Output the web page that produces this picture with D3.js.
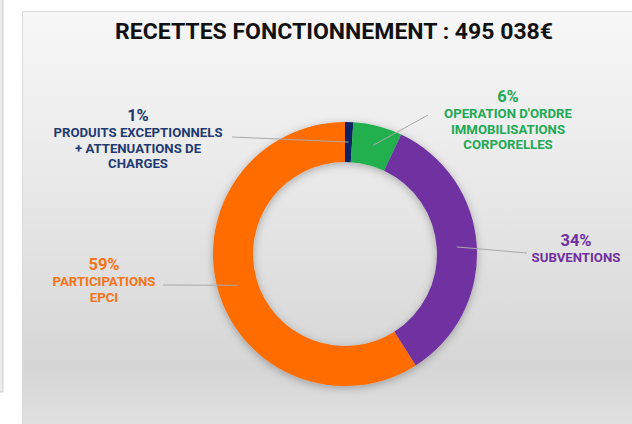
<!DOCTYPE html>
<html>
<head>
<meta charset="utf-8">
<script src="https://cdn.jsdelivr.net/npm/d3@7"></script>
<style>
  html, body { margin: 0; padding: 0; background: #fff; }
  #svg-container { width: 632px; height: 424px; }
  text { font-family: Roboto, "Liberation Sans", sans-serif; font-weight: 700; }
</style>
</head>
<body>
<div id="svg-container"></div>
<script>
////////////////////////////  Data  ////////////////////////////
const title = "RECETTES FONCTIONNEMENT : 495 038€";
const categories = [
  ["PRODUITS EXCEPTIONNELS", "+ ATTENUATIONS DE", "CHARGES"],
  ["OPERATION D'ORDRE", "IMMOBILISATIONS", "CORPORELLES"],
  ["SUBVENTIONS"],
  ["PARTICIPATIONS", "EPCI"]
];
const shares = [1, 6, 34, 59]; // %
const sliceColors = ["#0c2260", "#21b04f", "#7030a0", "#ff6c00"];
const textColors = ["#1e3a72", "#22a854", "#7030a0", "#f7731a"];

// label layout (where the leader line ends, where the text block sits)
const labelLayout = [
  { lx: 232, ly: 137, tx: 138, ty: 121 },
  { lx: 428, ly: 115, tx: 508, ty: 102 },
  { lx: 527, ly: 253, tx: 576, ty: 246 },
  { lx: 163, ly: 285, tx: 104, ty: 270 }
];

////////////////////////////  Init  ////////////////////////////
const width = 632, height = 424;
const svg = d3.select("#svg-container").append("svg")
  .attr("width", width).attr("height", height);

const defs = svg.append("defs");
const grad = defs.append("linearGradient").attr("id", "bg")
  .attr("x1", 0).attr("y1", 0).attr("x2", 0).attr("y2", 1);
[[0, "#f7f7f7"], [0.3, "#ededed"], [0.85, "#d6d6d6"], [1, "#e2e2e2"]]
  .forEach(s => grad.append("stop").attr("offset", s[0]).attr("stop-color", s[1]));

const shadow = defs.append("filter").attr("id", "shadow")
  .attr("x", "-20%").attr("y", "-20%").attr("width", "140%").attr("height", "140%");
shadow.append("feDropShadow").attr("dx", 0).attr("dy", 2).attr("stdDeviation", 4)
  .attr("flood-color", "#000").attr("flood-opacity", 0.28);

// left stub of the neighbouring frame
svg.append("rect").attr("x", -1).attr("y", -1).attr("width", 4).attr("height", 393)
  .attr("fill", "#ebebeb").attr("stroke", "#cfcfcf");

// chart panel
svg.append("rect").attr("x", 22.5).attr("y", 11.5).attr("width", 620).attr("height", 420)
  .attr("fill", "url(#bg)").attr("stroke", "#dadada");

svg.append("text")
  .attr("x", 334).attr("y", 39)
  .attr("text-anchor", "middle")
  .attr("font-size", 22)
  .attr("fill", "#111")
  .attr("textLength", 438).attr("lengthAdjust", "spacingAndGlyphs")
  .text(title);

////////////////////////////  Donut  ////////////////////////////
const cx = 345, cy = 254;
const outerR = 132, innerR = 92;

const pie = d3.pie().sort(null).value(d => d);
const arcs = pie(shares);
const arc = d3.arc().innerRadius(innerR).outerRadius(outerR);
const midArc = d3.arc().innerRadius((innerR + outerR) / 2).outerRadius((innerR + outerR) / 2);

const g = svg.append("g").attr("transform", `translate(${cx}, ${cy})`);

g.append("g").attr("filter", "url(#shadow)")
  .selectAll("path")
  .data(arcs)
  .enter()
  .append("path")
  .attr("d", arc)
  .attr("fill", (d, i) => sliceColors[i]);

// leader lines
g.selectAll(".leader")
  .data(arcs)
  .enter()
  .append("line")
  .attr("class", "leader")
  .attr("x1", d => midArc.centroid(d)[0])
  .attr("y1", d => midArc.centroid(d)[1])
  .attr("x2", (d, i) => labelLayout[i].lx - cx)
  .attr("y2", (d, i) => labelLayout[i].ly - cy)
  .attr("stroke", "#a9a9a9")
  .attr("stroke-width", 1);

// labels
const labels = svg.selectAll(".label")
  .data(arcs)
  .enter()
  .append("text")
  .attr("class", "label")
  .attr("text-anchor", "middle")
  .attr("fill", (d, i) => textColors[i]);

labels.append("tspan")
  .attr("x", (d, i) => labelLayout[i].tx)
  .attr("y", (d, i) => labelLayout[i].ty)
  .attr("font-size", 16.5)
  .text((d, i) => shares[i] + "%");

labels.each(function (d, i) {
  d3.select(this).selectAll(".line")
    .data(categories[i])
    .enter()
    .append("tspan")
    .attr("x", labelLayout[i].tx)
    .attr("y", (t, j) => labelLayout[i].ty + 16 + j * 15.5)
    .attr("font-size", 13.2)
    .text(t => t);
});
</script>
</body>
</html>
